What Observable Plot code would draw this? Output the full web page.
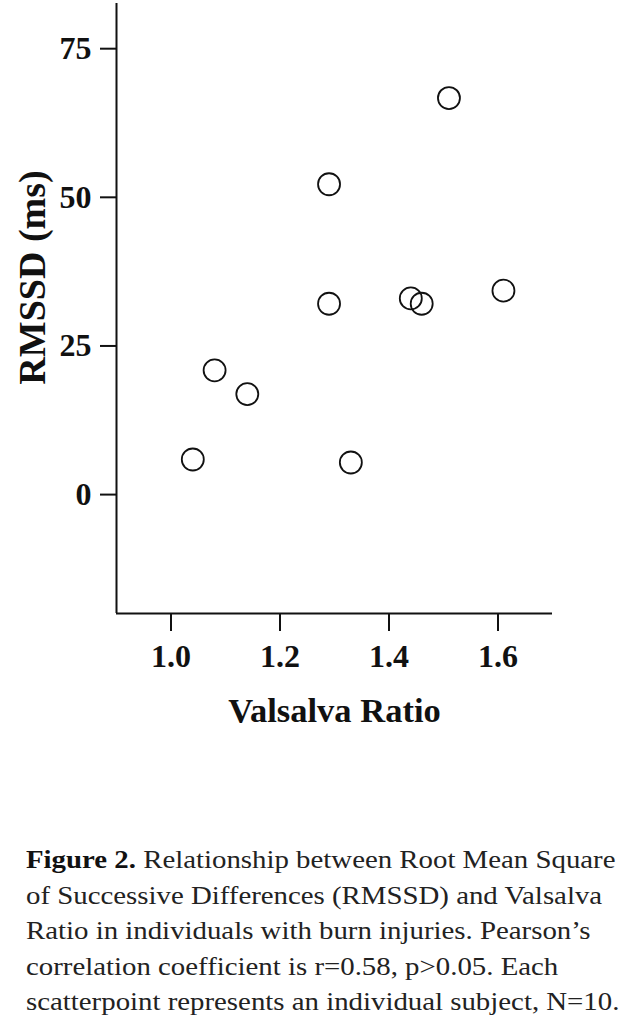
<!DOCTYPE html>
<html>
<head>
<meta charset="utf-8">
<script src="https://cdn.jsdelivr.net/npm/d3@7"></script>
<script src="https://cdn.jsdelivr.net/npm/@observablehq/plot@0.6"></script>
<style>
  html, body { margin: 0; padding: 0; background: #fff; }
  #chart svg { display: block; }
  .caption {
    font-family: "Liberation Serif", "Times New Roman", serif;
    font-size: 25px;
    line-height: 35.5px;
    color: #222;
    margin: 62px 0 0 26px;
    white-space: nowrap;
    transform: scaleX(1.153);
    transform-origin: left top;
  }
  .caption b { color: #111; }
</style>
</head>
<body>
<div id="chart"></div>
<div class="caption">
  <b>Figure 2.</b> Relationship between Root Mean Square<br>
  of Successive Differences (RMSSD) and Valsalva<br>
  Ratio in individuals with burn injuries. Pearson’s<br>
  correlation coefficient is r=0.58, p&gt;0.05. Each<br>
  scatterpoint represents an individual subject, N=10.
</div>
<script>
// Valsalva ratio and RMSSD for each subject
const valsalvaRatio = [1.04, 1.08, 1.14, 1.29, 1.29, 1.33, 1.44, 1.46, 1.51, 1.61];
const rmssd = [5.9, 20.9, 16.9, 52.2, 32.1, 5.4, 33.0, 32.1, 66.7, 34.3];

const xTicks = [1.0, 1.2, 1.4, 1.6];
const yTicks = [0, 25, 50, 75];
const xLabel = "Valsalva Ratio";
const yLabel = "RMSSD (ms)";

const subjects = valsalvaRatio.map((v, i) => ({ratio: v, rmssd: rmssd[i]}));

const chart = Plot.plot({
  width: 633,
  height: 780,
  marginLeft: 116,
  marginRight: 81,
  marginTop: 3,
  marginBottom: 167,
  style: {
    fontFamily: "'Liberation Serif', 'Times New Roman', serif",
    fontSize: "32px",
    fontWeight: "bold",
    color: "#111",
    background: "#fff"
  },
  x: {domain: [0.9, 1.7]},
  y: {domain: [-20, 82.6]},
  marks: [
    Plot.ruleX([0.9], {stroke: "#111", strokeWidth: 2}),
    Plot.ruleY([-20], {stroke: "#111", strokeWidth: 2}),
    Plot.axisX(xTicks, {
      tickSize: 18, tickPadding: 13, strokeWidth: 2, fontSize: 32,
      tickFormat: d3.format(".1f"), label: null
    }),
    Plot.axisY(yTicks, {
      tickSize: 16, tickPadding: 9, strokeWidth: 2, fontSize: 32, label: null
    }),
    Plot.dot(subjects, {
      x: "ratio", y: "rmssd", r: 11,
      stroke: "#111", strokeWidth: 1.8, fill: "none"
    }),
    Plot.text([xLabel], {
      frameAnchor: "bottom", dy: 97, lineAnchor: "middle", textAnchor: "middle",
      fontSize: 34.5, fontWeight: "bold", fill: "#111"
    }),
    Plot.text([yLabel], {
      frameAnchor: "left", dx: -84, dy: -31, rotate: -90,
      lineAnchor: "middle", textAnchor: "middle",
      fontSize: 38, fontWeight: "bold", fill: "#111"
    })
  ]
});

document.getElementById("chart").appendChild(chart);
</script>
</body>
</html>
